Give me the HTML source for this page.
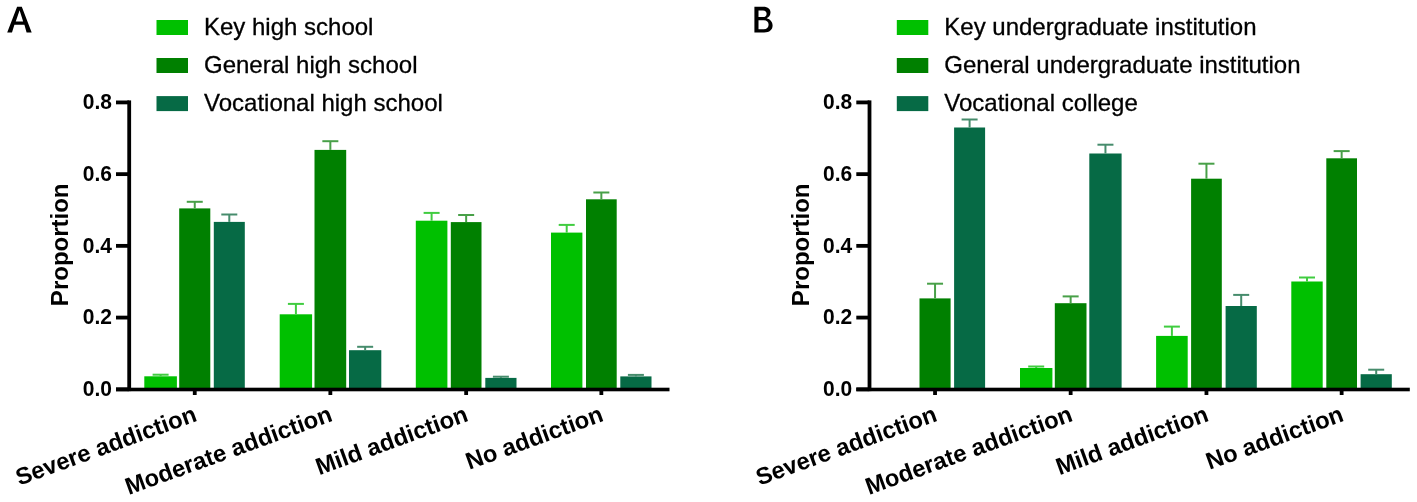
<!DOCTYPE html>
<html><head><meta charset="utf-8"><style>
html,body{margin:0;padding:0;background:#fff;}
svg{display:block;will-change:transform;}
text{font-family:"Liberation Sans", sans-serif;}
</style></head><body>
<svg width="1417" height="502" viewBox="0 0 1417 502">
<rect width="1417" height="502" fill="#fff"/>
<g transform="translate(0,0)">
<rect x="156.5" y="20" width="31.5" height="15" fill="#00c000"/>
<text transform="translate(204.0,34.7) scale(1,1.0)" font-size="24" fill="#000" stroke="#000" stroke-width="0.3">Key high school</text>
<rect x="156.5" y="58" width="31.5" height="15" fill="#008000"/>
<text transform="translate(204.0,72.8) scale(1,1.0)" font-size="24" fill="#000" stroke="#000" stroke-width="0.3">General high school</text>
<rect x="156.5" y="96.1" width="31.5" height="15" fill="#066a45"/>
<text transform="translate(204.0,110.5) scale(1,1.0)" font-size="24" fill="#000" stroke="#000" stroke-width="0.3">Vocational high school</text>
<rect x="144.30" y="376.30" width="32.60" height="13.00" fill="#00c000"/>
<line x1="160.60" y1="374.70" x2="160.60" y2="376.30" stroke="#40cc40" stroke-width="2"/>
<line x1="152.60" y1="374.70" x2="168.60" y2="374.70" stroke="#40cc40" stroke-width="2"/>
<rect x="179.20" y="208.40" width="31.10" height="180.90" fill="#008000"/>
<line x1="194.75" y1="201.80" x2="194.75" y2="208.40" stroke="#48a048" stroke-width="2"/>
<line x1="186.75" y1="201.80" x2="202.75" y2="201.80" stroke="#48a048" stroke-width="2"/>
<rect x="213.80" y="221.90" width="31.00" height="167.40" fill="#066a45"/>
<line x1="229.30" y1="214.50" x2="229.30" y2="221.90" stroke="#468c6c" stroke-width="2"/>
<line x1="221.30" y1="214.50" x2="237.30" y2="214.50" stroke="#468c6c" stroke-width="2"/>
<rect x="279.70" y="314.30" width="32.40" height="75.00" fill="#00c000"/>
<line x1="295.90" y1="303.90" x2="295.90" y2="314.30" stroke="#40cc40" stroke-width="2"/>
<line x1="287.90" y1="303.90" x2="303.90" y2="303.90" stroke="#40cc40" stroke-width="2"/>
<rect x="314.50" y="149.90" width="31.70" height="239.40" fill="#008000"/>
<line x1="330.35" y1="141.20" x2="330.35" y2="149.90" stroke="#48a048" stroke-width="2"/>
<line x1="322.35" y1="141.20" x2="338.35" y2="141.20" stroke="#48a048" stroke-width="2"/>
<rect x="349.00" y="350.20" width="32.30" height="39.10" fill="#066a45"/>
<line x1="365.15" y1="346.80" x2="365.15" y2="350.20" stroke="#468c6c" stroke-width="2"/>
<line x1="357.15" y1="346.80" x2="373.15" y2="346.80" stroke="#468c6c" stroke-width="2"/>
<rect x="415.80" y="220.70" width="31.60" height="168.60" fill="#00c000"/>
<line x1="431.60" y1="212.90" x2="431.60" y2="220.70" stroke="#40cc40" stroke-width="2"/>
<line x1="423.60" y1="212.90" x2="439.60" y2="212.90" stroke="#40cc40" stroke-width="2"/>
<rect x="450.80" y="222.10" width="30.70" height="167.20" fill="#008000"/>
<line x1="466.15" y1="215.00" x2="466.15" y2="222.10" stroke="#48a048" stroke-width="2"/>
<line x1="458.15" y1="215.00" x2="474.15" y2="215.00" stroke="#48a048" stroke-width="2"/>
<rect x="485.30" y="377.90" width="31.20" height="11.40" fill="#066a45"/>
<line x1="500.90" y1="376.70" x2="500.90" y2="377.90" stroke="#468c6c" stroke-width="2"/>
<line x1="492.90" y1="376.70" x2="508.90" y2="376.70" stroke="#468c6c" stroke-width="2"/>
<rect x="551.00" y="232.60" width="31.40" height="156.70" fill="#00c000"/>
<line x1="566.70" y1="224.90" x2="566.70" y2="232.60" stroke="#40cc40" stroke-width="2"/>
<line x1="558.70" y1="224.90" x2="574.70" y2="224.90" stroke="#40cc40" stroke-width="2"/>
<rect x="586.00" y="199.30" width="30.70" height="190.00" fill="#008000"/>
<line x1="601.35" y1="192.50" x2="601.35" y2="199.30" stroke="#48a048" stroke-width="2"/>
<line x1="593.35" y1="192.50" x2="609.35" y2="192.50" stroke="#48a048" stroke-width="2"/>
<rect x="620.30" y="376.40" width="31.20" height="12.90" fill="#066a45"/>
<line x1="635.90" y1="374.90" x2="635.90" y2="376.40" stroke="#468c6c" stroke-width="2"/>
<line x1="627.90" y1="374.90" x2="643.90" y2="374.90" stroke="#468c6c" stroke-width="2"/>
<rect x="127.3" y="100.4" width="3.8" height="290.7" fill="#000"/>
<rect x="116" y="387.7" width="553.5" height="3.6" fill="#000"/>
<rect x="116" y="387.40" width="13" height="3.8" fill="#000"/>
<text transform="translate(112,396.10) scale(1,1.05)" font-size="21" font-weight="bold" text-anchor="end" fill="#000">0.0</text>
<rect x="116" y="315.68" width="13" height="3.8" fill="#000"/>
<text transform="translate(112,324.38) scale(1,1.05)" font-size="21" font-weight="bold" text-anchor="end" fill="#000">0.2</text>
<rect x="116" y="243.96" width="13" height="3.8" fill="#000"/>
<text transform="translate(112,252.66) scale(1,1.05)" font-size="21" font-weight="bold" text-anchor="end" fill="#000">0.4</text>
<rect x="116" y="172.24" width="13" height="3.8" fill="#000"/>
<text transform="translate(112,180.94) scale(1,1.05)" font-size="21" font-weight="bold" text-anchor="end" fill="#000">0.6</text>
<rect x="116" y="100.52" width="13" height="3.8" fill="#000"/>
<text transform="translate(112,109.22) scale(1,1.05)" font-size="21" font-weight="bold" text-anchor="end" fill="#000">0.8</text>
<rect x="192.85" y="389" width="3.8" height="6" fill="#000"/>
<text transform="translate(198.10,420.5) rotate(-20) scale(1,1.0)" font-size="23.8" font-weight="bold" text-anchor="end" fill="#000">Severe addiction</text>
<rect x="328.45" y="389" width="3.8" height="6" fill="#000"/>
<text transform="translate(333.70,420.5) rotate(-20) scale(1,1.0)" font-size="23.8" font-weight="bold" text-anchor="end" fill="#000">Moderate addiction</text>
<rect x="464.25" y="389" width="3.8" height="6" fill="#000"/>
<text transform="translate(469.50,420.5) rotate(-20) scale(1,1.0)" font-size="23.8" font-weight="bold" text-anchor="end" fill="#000">Mild addiction</text>
<rect x="599.45" y="389" width="3.8" height="6" fill="#000"/>
<text transform="translate(604.70,420.5) rotate(-20) scale(1,1.0)" font-size="23.8" font-weight="bold" text-anchor="end" fill="#000">No addiction</text>
<text transform="translate(68.4,244.8) rotate(-90) scale(1,1.0)" font-size="24" font-weight="bold" text-anchor="middle" fill="#000">Proportion</text>
</g>
<path fill="#000" fill-rule="evenodd" d="M7.2,32.5 L17.1,6.65 L21.8,6.65 L31.7,32.5 L26.6,32.5 L24.4,24.7 L14.4,24.7 L12.0,32.5 Z M19.6,10.2 L23.15,21.4 L15.75,21.4 Z"/>
<path fill="#000" fill-rule="evenodd" d="M754.4,6.75 L763.2,6.75 C768.2,6.75 770.5,9.3 770.5,12.5 C770.5,15.1 769.0,17.2 766.6,18.3 C770.3,19.3 772.6,22.1 772.6,25.6 C772.6,29.9 769.5,32.55 764.2,32.55 L754.4,32.55 Z M758.5,10.4 L763.0,10.4 C765.4,10.4 766.6,11.7 766.6,13.7 C766.6,15.8 765.3,17.1 762.8,17.1 L758.5,17.1 Z M758.5,20.25 L763.8,20.25 C766.8,20.25 768.6,22.0 768.6,24.7 C768.6,27.4 766.8,29.2 763.6,29.2 L758.5,29.2 Z"/>
<g transform="translate(740.3,0)">
<rect x="156.5" y="20" width="31.5" height="15" fill="#00c000"/>
<text transform="translate(204.0,34.7) scale(1,1.0)" font-size="24" fill="#000" stroke="#000" stroke-width="0.3">Key undergraduate institution</text>
<rect x="156.5" y="58" width="31.5" height="15" fill="#008000"/>
<text transform="translate(204.0,72.8) scale(1,1.0)" font-size="24" fill="#000" stroke="#000" stroke-width="0.3">General undergraduate institution</text>
<rect x="156.5" y="96.1" width="31.5" height="15" fill="#066a45"/>
<text transform="translate(204.0,110.5) scale(1,1.0)" font-size="24" fill="#000" stroke="#000" stroke-width="0.3">Vocational college</text>
<rect x="179.20" y="298.40" width="31.10" height="90.90" fill="#008000"/>
<line x1="194.75" y1="283.70" x2="194.75" y2="298.40" stroke="#48a048" stroke-width="2"/>
<line x1="186.75" y1="283.70" x2="202.75" y2="283.70" stroke="#48a048" stroke-width="2"/>
<rect x="213.80" y="127.50" width="31.00" height="261.80" fill="#066a45"/>
<line x1="229.30" y1="119.50" x2="229.30" y2="127.50" stroke="#468c6c" stroke-width="2"/>
<line x1="221.30" y1="119.50" x2="237.30" y2="119.50" stroke="#468c6c" stroke-width="2"/>
<rect x="279.70" y="368.00" width="32.40" height="21.30" fill="#00c000"/>
<line x1="295.90" y1="366.50" x2="295.90" y2="368.00" stroke="#40cc40" stroke-width="2"/>
<line x1="287.90" y1="366.50" x2="303.90" y2="366.50" stroke="#40cc40" stroke-width="2"/>
<rect x="314.50" y="303.20" width="31.70" height="86.10" fill="#008000"/>
<line x1="330.35" y1="296.40" x2="330.35" y2="303.20" stroke="#48a048" stroke-width="2"/>
<line x1="322.35" y1="296.40" x2="338.35" y2="296.40" stroke="#48a048" stroke-width="2"/>
<rect x="349.00" y="153.50" width="32.30" height="235.80" fill="#066a45"/>
<line x1="365.15" y1="144.70" x2="365.15" y2="153.50" stroke="#468c6c" stroke-width="2"/>
<line x1="357.15" y1="144.70" x2="373.15" y2="144.70" stroke="#468c6c" stroke-width="2"/>
<rect x="415.80" y="335.90" width="31.60" height="53.40" fill="#00c000"/>
<line x1="431.60" y1="326.60" x2="431.60" y2="335.90" stroke="#40cc40" stroke-width="2"/>
<line x1="423.60" y1="326.60" x2="439.60" y2="326.60" stroke="#40cc40" stroke-width="2"/>
<rect x="450.80" y="178.70" width="30.70" height="210.60" fill="#008000"/>
<line x1="466.15" y1="163.70" x2="466.15" y2="178.70" stroke="#48a048" stroke-width="2"/>
<line x1="458.15" y1="163.70" x2="474.15" y2="163.70" stroke="#48a048" stroke-width="2"/>
<rect x="485.30" y="306.00" width="31.20" height="83.30" fill="#066a45"/>
<line x1="500.90" y1="294.90" x2="500.90" y2="306.00" stroke="#468c6c" stroke-width="2"/>
<line x1="492.90" y1="294.90" x2="508.90" y2="294.90" stroke="#468c6c" stroke-width="2"/>
<rect x="551.00" y="281.50" width="31.40" height="107.80" fill="#00c000"/>
<line x1="566.70" y1="277.50" x2="566.70" y2="281.50" stroke="#40cc40" stroke-width="2"/>
<line x1="558.70" y1="277.50" x2="574.70" y2="277.50" stroke="#40cc40" stroke-width="2"/>
<rect x="586.00" y="158.30" width="30.70" height="231.00" fill="#008000"/>
<line x1="601.35" y1="151.10" x2="601.35" y2="158.30" stroke="#48a048" stroke-width="2"/>
<line x1="593.35" y1="151.10" x2="609.35" y2="151.10" stroke="#48a048" stroke-width="2"/>
<rect x="620.30" y="374.20" width="31.20" height="15.10" fill="#066a45"/>
<line x1="635.90" y1="369.70" x2="635.90" y2="374.20" stroke="#468c6c" stroke-width="2"/>
<line x1="627.90" y1="369.70" x2="643.90" y2="369.70" stroke="#468c6c" stroke-width="2"/>
<rect x="127.3" y="100.4" width="3.8" height="290.7" fill="#000"/>
<rect x="116" y="387.7" width="553.5" height="3.6" fill="#000"/>
<rect x="116" y="387.40" width="13" height="3.8" fill="#000"/>
<text transform="translate(112,396.10) scale(1,1.05)" font-size="21" font-weight="bold" text-anchor="end" fill="#000">0.0</text>
<rect x="116" y="315.68" width="13" height="3.8" fill="#000"/>
<text transform="translate(112,324.38) scale(1,1.05)" font-size="21" font-weight="bold" text-anchor="end" fill="#000">0.2</text>
<rect x="116" y="243.96" width="13" height="3.8" fill="#000"/>
<text transform="translate(112,252.66) scale(1,1.05)" font-size="21" font-weight="bold" text-anchor="end" fill="#000">0.4</text>
<rect x="116" y="172.24" width="13" height="3.8" fill="#000"/>
<text transform="translate(112,180.94) scale(1,1.05)" font-size="21" font-weight="bold" text-anchor="end" fill="#000">0.6</text>
<rect x="116" y="100.52" width="13" height="3.8" fill="#000"/>
<text transform="translate(112,109.22) scale(1,1.05)" font-size="21" font-weight="bold" text-anchor="end" fill="#000">0.8</text>
<rect x="192.85" y="389" width="3.8" height="6" fill="#000"/>
<text transform="translate(198.10,420.5) rotate(-20) scale(1,1.0)" font-size="23.8" font-weight="bold" text-anchor="end" fill="#000">Severe addiction</text>
<rect x="328.45" y="389" width="3.8" height="6" fill="#000"/>
<text transform="translate(333.70,420.5) rotate(-20) scale(1,1.0)" font-size="23.8" font-weight="bold" text-anchor="end" fill="#000">Moderate addiction</text>
<rect x="464.25" y="389" width="3.8" height="6" fill="#000"/>
<text transform="translate(469.50,420.5) rotate(-20) scale(1,1.0)" font-size="23.8" font-weight="bold" text-anchor="end" fill="#000">Mild addiction</text>
<rect x="599.45" y="389" width="3.8" height="6" fill="#000"/>
<text transform="translate(604.70,420.5) rotate(-20) scale(1,1.0)" font-size="23.8" font-weight="bold" text-anchor="end" fill="#000">No addiction</text>
<text transform="translate(68.4,244.8) rotate(-90) scale(1,1.0)" font-size="24" font-weight="bold" text-anchor="middle" fill="#000">Proportion</text>
</g>
</svg>
</body></html>
